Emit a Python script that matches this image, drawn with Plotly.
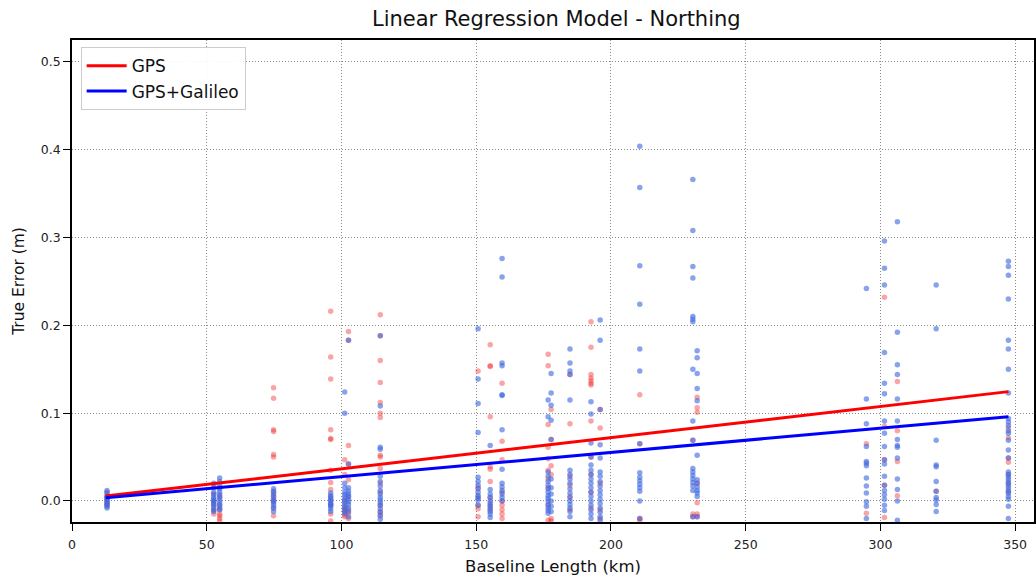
import plotly.graph_objects as go

baselines = [13.0, 52.6, 54.8, 74.8, 96.0, 101.2, 102.6, 114.4, 150.7, 155.2, 159.6,
             176.7, 177.8, 184.8, 192.6, 196.0, 210.7, 230.4, 232.0, 294.8, 301.5,
             306.3, 320.7, 347.5]

gps_errors = [
    [0.010, 0.005, 0.003, 0.0, -0.003, -0.005],
    [0.018, 0.008, 0.0, -0.005, -0.010, -0.015],
    [0.015, 0.005, -0.005, -0.010, -0.015, -0.017, -0.020, -0.023],
    [0.129, 0.117, 0.081, 0.079, 0.053, 0.050, 0.010, 0.005, 0.0, -0.008, -0.017],
    [0.216, 0.164, 0.139, 0.081, 0.071, 0.070, 0.035, 0.021, 0.013, 0.005, -0.005, -0.015, -0.023],
    [0.047, 0.030, 0.0, -0.007, -0.010, -0.013, -0.016, -0.018],
    [0.193, 0.183, 0.063, 0.042, 0.024, 0.005, -0.010, -0.014, -0.020],
    [0.212, 0.188, 0.160, 0.135, 0.112, 0.100, 0.095, 0.052, 0.050, 0.037, 0.020, 0.010, -0.005, -0.012, -0.016],
    [0.148, 0.015, 0.005, -0.005, -0.009, -0.018],
    [0.178, 0.154, 0.153, 0.096, 0.039, 0.036, 0.022, 0.004, -0.005, -0.010],
    [0.134, 0.068, 0.047, 0.010, 0.0, -0.005, -0.010, -0.015, -0.020],
    [0.167, 0.154, 0.087, 0.061, 0.048, 0.035, 0.025, 0.015, -0.005, -0.022],
    [0.104, 0.070, 0.040, 0.030, -0.020, -0.023],
    [0.144, 0.088, 0.028, 0.018, 0.005, -0.010],
    [0.204, 0.175, 0.144, 0.140, 0.137, 0.134, 0.132, 0.091, 0.050, 0.030, 0.010, -0.008],
    [0.104, 0.083, 0.020, -0.010, -0.020],
    [0.121, 0.065, -0.020, -0.022],
    [0.069, -0.015, -0.018],
    [0.118, 0.106, 0.101, 0.020, -0.002, -0.015, -0.018],
    [0.065, -0.014],
    [0.232, 0.085, 0.047, 0.018, -0.019],
    [0.136, 0.080, 0.045, 0.006],
    [0.011],
    [0.083, 0.072, 0.049, 0.044, 0.030, 0.020, 0.010],
]

galileo_errors = [
    [0.012, 0.009, 0.006, 0.004, 0.002, 0.0, -0.002, -0.004, -0.006, -0.008],
    [0.020, 0.015, 0.010, 0.007, 0.004, 0.002, 0.0, -0.002, -0.004, -0.007, -0.010, -0.012],
    [0.026, 0.022, 0.018, 0.014, 0.010, 0.007, 0.004, 0.001, -0.002, -0.005, -0.008, -0.010],
    [0.014, 0.011, 0.008, 0.005, 0.002, 0.0, -0.002, -0.005, -0.008, -0.012],
    [0.009, 0.006, 0.003, 0.001, 0.0, -0.003, -0.004, -0.006, -0.009, -0.012],
    [0.124, 0.100, 0.020, 0.015, 0.010, 0.007, 0.004, 0.001, -0.002, -0.005, -0.008, -0.011, -0.014],
    [0.183, 0.042, 0.015, 0.011, 0.008, 0.005, 0.002, -0.001, -0.004, -0.008, -0.012, -0.018],
    [0.188, 0.108, 0.061, 0.059, 0.028, 0.022, 0.017, 0.012, 0.008, 0.004, 0.001, -0.002, -0.005, -0.009, -0.013, -0.017, -0.021],
    [0.196, 0.139, 0.111, 0.078, 0.027, 0.022, 0.018, 0.014, 0.010, 0.006, 0.003, 0.001, -0.005],
    [0.063, 0.013, 0.008, 0.004, 0.0, -0.003, -0.006, -0.009, -0.012, -0.015, -0.019],
    [0.276, 0.255, 0.157, 0.154, 0.121, 0.120, 0.081, 0.036, 0.020, 0.016, 0.012, 0.008, 0.004, 0.0],
    [0.115, 0.096, 0.033, 0.028, 0.022, 0.018, 0.014, 0.010, 0.006, 0.003, 0.0, -0.004, -0.008, -0.011, -0.014],
    [0.145, 0.123, 0.109, 0.092, 0.070, 0.025, 0.015, 0.008, 0.0, -0.006, -0.012],
    [0.173, 0.157, 0.148, 0.144, 0.115, 0.035, 0.030, 0.025, 0.020, 0.014, 0.009, 0.004, 0.0, -0.004, -0.008, -0.012, -0.018],
    [0.113, 0.099, 0.066, 0.050, 0.041, 0.035, 0.030, 0.025, 0.020, 0.015, 0.010, 0.005, 0.0, -0.005, -0.010, -0.015, -0.020],
    [0.206, 0.183, 0.104, 0.064, 0.049, 0.033, 0.028, 0.022, 0.017, 0.012, 0.007, 0.002, -0.003, -0.008, -0.013, -0.018, -0.022],
    [0.404, 0.357, 0.268, 0.224, 0.173, 0.148, 0.065, 0.032, 0.027, 0.023, 0.019, 0.015, 0.011, 0.0, -0.020],
    [0.366, 0.308, 0.267, 0.254, 0.210, 0.207, 0.204, 0.150, 0.091, 0.069, 0.037, 0.033, 0.029, 0.025, 0.021, 0.017, 0.012, -0.018],
    [0.171, 0.163, 0.145, 0.128, 0.114, 0.052, 0.024, 0.020, 0.016, 0.012, 0.009, 0.005, -0.018],
    [0.242, 0.116, 0.088, 0.062, 0.045, 0.043, 0.040, 0.026, 0.017, 0.009, -0.001, -0.006, -0.020],
    [0.296, 0.265, 0.246, 0.169, 0.134, 0.122, 0.091, 0.077, 0.062, 0.047, 0.042, 0.028, 0.018, 0.012, 0.007, 0.002, -0.005, -0.011],
    [0.318, 0.192, 0.155, 0.144, 0.116, 0.091, 0.070, 0.063, 0.061, 0.049, 0.025, 0.013, 0.0, -0.022],
    [0.246, 0.196, 0.069, 0.041, 0.039, 0.022, 0.011, 0.004, 0.001, -0.004, -0.012],
    [0.273, 0.267, 0.257, 0.230, 0.183, 0.173, 0.150, 0.123, 0.094, 0.090, 0.086, 0.080, 0.077, 0.069, 0.058, 0.049, 0.033, 0.030, 0.027, 0.024, 0.021, 0.018, 0.015, 0.012, 0.009, 0.005, 0.002, -0.006, -0.020],
]

# regression line endpoints
fit_x = [12.5, 347.5]
fit_gps = [0.0055, 0.1245]
fit_galileo = [0.0035, 0.096]

x_ticks = [0, 50, 100, 150, 200, 250, 300, 350]
y_ticks = [0.0, 0.1, 0.2, 0.3, 0.4, 0.5]


def flatten(groups):
    xs, ys = [], []
    for b, vals in zip(baselines, groups):
        for v in vals:
            xs.append(b)
            ys.append(v)
    return xs, ys


gx, gy = flatten(gps_errors)
ex, ey = flatten(galileo_errors)

FONT = "DejaVu Sans"

fig = go.Figure()
fig.add_trace(go.Scatter(x=gx, y=gy, mode="markers", showlegend=False,
                         marker=dict(size=5.5, color="rgba(240,40,40,0.42)", line=dict(width=0))))
fig.add_trace(go.Scatter(x=ex, y=ey, mode="markers", showlegend=False,
                         marker=dict(size=5.5, color="rgba(65,105,225,0.62)", line=dict(width=0))))
fig.add_trace(go.Scatter(x=fit_x, y=fit_gps, mode="lines", name="GPS",
                         line=dict(color="#ff0000", width=3)))
fig.add_trace(go.Scatter(x=fit_x, y=fit_galileo, mode="lines", name="GPS+Galileo",
                         line=dict(color="#0000ff", width=3)))

axis_common = dict(
    showline=True, linecolor="black", linewidth=1.6, mirror=True,
    ticks="outside", ticklen=7, tickwidth=1.4, tickcolor="black",
    showgrid=True, gridcolor="#8a8a8a", griddash="1px,2px", gridwidth=1,
    zeroline=False, tickfont=dict(family=FONT, size=12.5, color="#222"),
)

fig.update_layout(
    width=1036, height=580,
    margin=dict(l=72, r=0, t=40, b=58),
    paper_bgcolor="white", plot_bgcolor="white",
    font=dict(family=FONT, color="#111"),
    title=dict(text="Linear Regression Model - Northing", x=0.537, xanchor="center",
               y=0.968, yanchor="middle", font=dict(family=FONT, size=21, color="#111")),
    xaxis=dict(range=[0, 357], tickvals=x_ticks, ticktext=[str(v) for v in x_ticks],
               ticklabelstandoff=3,
               title=dict(text="Baseline Length (km)", font=dict(family=FONT, size=16.5), standoff=10),
               **axis_common),
    yaxis=dict(range=[-0.024, 0.525], tickvals=y_ticks, ticktext=[f"{v:.1f}" for v in y_ticks],
               title=dict(text="True Error (m)", font=dict(family=FONT, size=15.5), standoff=12),
               **axis_common),
    legend=dict(x=0.009, y=0.985, xanchor="left", yanchor="top",
                bgcolor="rgba(255,255,255,0.9)", bordercolor="#cccccc", borderwidth=1,
                font=dict(family=FONT, size=17, color="#111"), itemwidth=40,
                tracegroupgap=2),
)

fig.write_html("out.html")
